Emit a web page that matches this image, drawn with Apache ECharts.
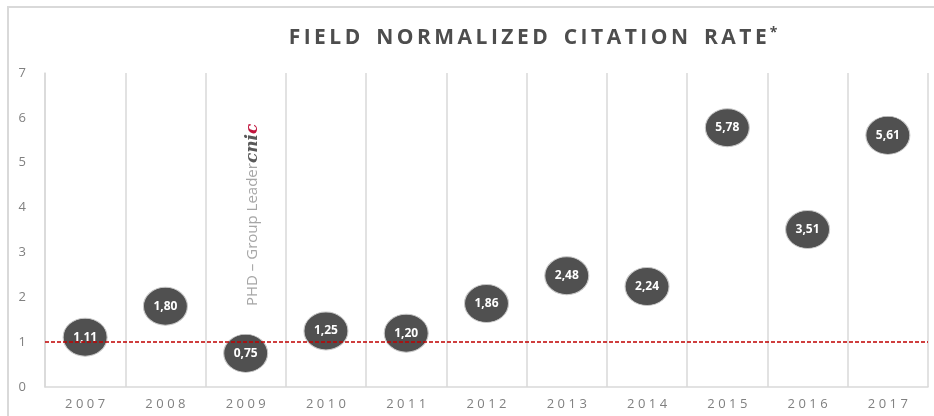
<!DOCTYPE html>
<html>
<head>
<meta charset="utf-8">
<script src="https://cdn.jsdelivr.net/npm/echarts@6/dist/echarts.min.js"></script>
<style>
  html, body { margin: 0; padding: 0; background: #fff; }
  #chart { width: 934px; height: 416px; }
</style>
</head>
<body>
<div id="chart"></div>
<script>
const years = ['2007', '2008', '2009', '2010', '2011', '2012', '2013', '2014', '2015', '2016', '2017']
const rates = [1.11, 1.80, 0.75, 1.25, 1.20, 1.86, 2.48, 2.24, 5.78, 3.51, 5.61]
const yTicks = [0, 1, 2, 3, 4, 5, 6, 7]
const reference = 1

// spread letters a bit, the original uses wide tracking
const spaced = (s, gap = '\u2009') => s.split('').join(gap)

const chart = echarts.init(document.getElementById('chart'))

chart.setOption({
  animation: false,
  backgroundColor: '#fff',
  title: {
    text: ['FIELD', 'NORMALIZED', 'CITATION', 'RATE'].map(w => spaced(w, '\u2009')).join('\u2002 ') + '{s|*}',
    left: 528,
    top: 21,
    textAlign: 'center',
    textStyle: {
      fontFamily: 'Open Sans',
      fontWeight: 'bold',
      fontSize: 21,
      color: '#4d4d4d',
      rich: {
        s: { fontSize: 14, fontWeight: 'bold', color: '#4d4d4d', verticalAlign: 'top', padding: [0, 0, 10, 3] }
      }
    }
  },
  grid: { left: 45, right: 6, top: 73, bottom: 29 },
  xAxis: {
    type: 'category',
    data: years,
    boundaryGap: true,
    axisLine: { show: true, lineStyle: { color: '#d9d9d9', width: 1.5 } },
    axisTick: { show: false },
    splitLine: { show: true, interval: 0, lineStyle: { color: '#d9d9d9', width: 1.5 } },
    axisLabel: {
      interval: 0,
      margin: 11,
      fontFamily: 'Open Sans',
      fontSize: 13,
      color: '#808080',
      formatter: v => spaced(v, '\u2009\u200A')
    }
  },
  yAxis: {
    type: 'value',
    min: yTicks[0],
    max: yTicks[yTicks.length - 1],
    interval: 1,
    axisLine: { show: true, lineStyle: { color: '#d9d9d9', width: 1.5 } },
    axisTick: { show: false },
    splitLine: { show: false },
    axisLabel: {
      margin: 19,
      fontFamily: 'Open Sans',
      fontSize: 13,
      color: '#808080'
    }
  },
  graphic: [
    {
      type: 'rect',
      shape: { x: 8, y: 7, width: 940, height: 420 },
      style: { fill: 'none', stroke: '#d9d9d9', lineWidth: 2 },
      z: -1
    },
    {
      type: 'text',
      x: 244,
      y: 306,
      rotation: Math.PI / 2,
      style: {
        text: '{t|PHD – Group Leader}{c|cni}{r|c}',
        rich: {
          t: { fontFamily: 'Open Sans', fontSize: 15, fill: '#a6a6a6' },
          c: { fontFamily: 'DejaVu Serif', fontStyle: 'italic', fontWeight: 'bold', fontSize: 17, fill: '#595959' },
          r: { fontFamily: 'DejaVu Serif', fontStyle: 'italic', fontWeight: 'bold', fontSize: 17, fill: '#c0143c' }
        }
      }
    }
  ],
  series: [
    {
      type: 'scatter',
      data: rates,
      symbol: 'circle',
      symbolSize: [44, 38],
      itemStyle: { color: '#505050', borderColor: '#c8c8c8', borderWidth: 1, opacity: 1 },
      label: {
        show: true,
        position: 'inside',
        fontFamily: 'Open Sans',
        fontWeight: 'bold',
        fontSize: 12,
        color: '#fff',
        formatter: p => p.value.toFixed(2).replace('.', ',')
      },
      markLine: {
        silent: true,
        symbol: 'none',
        label: { show: false },
        lineStyle: { color: '#c00000', type: [4, 2], width: 1.5 },
        data: [{ yAxis: reference }]
      },
      z: 3
    }
  ]
})
</script>
</body>
</html>
